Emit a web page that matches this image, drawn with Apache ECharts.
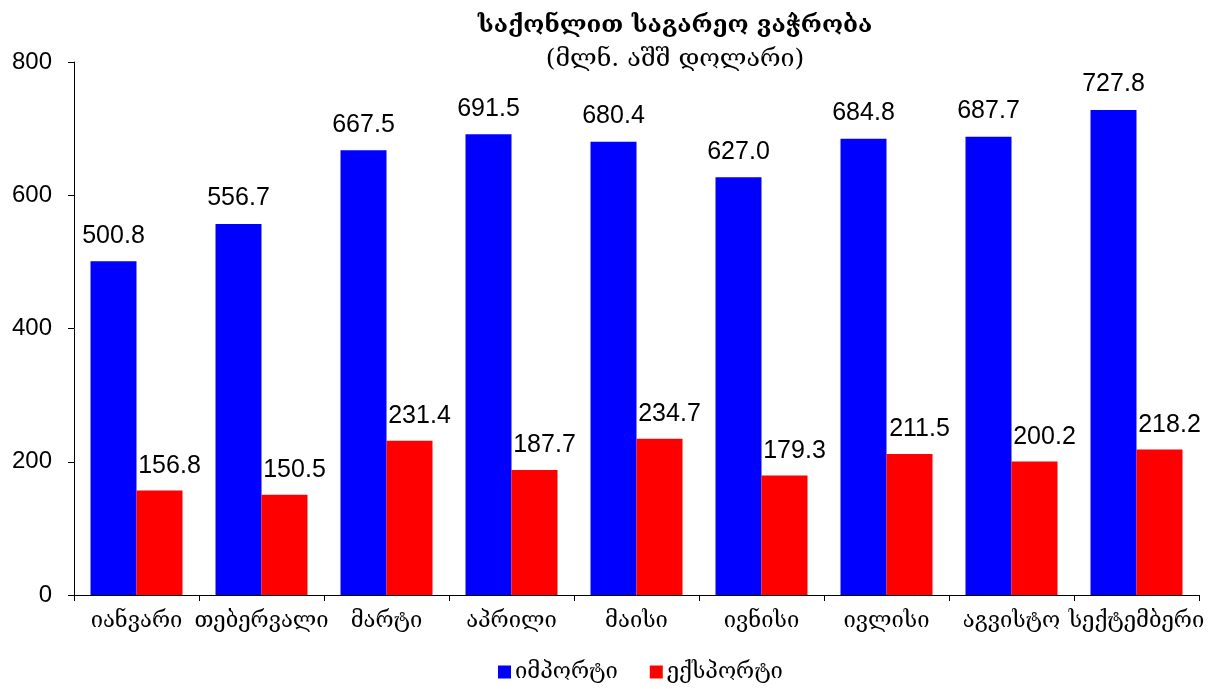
<!DOCTYPE html>
<html><head><meta charset="utf-8">
<script src="https://cdn.jsdelivr.net/npm/echarts@6/dist/echarts.min.js"></script>
<style>html,body{margin:0;padding:0;background:#fff}#c{width:1215px;height:689px}</style>
</head><body><div id="c"></div>
<script>
const categories = ['იანვარი','თებერვალი','მარტი','აპრილი','მაისი','ივნისი','ივლისი','აგვისტო','სექტემბერი'];
const importValues = [500.8, 556.7, 667.5, 691.5, 680.4, 627.0, 684.8, 687.7, 727.8];
const exportValues = [156.8, 150.5, 231.4, 187.7, 234.7, 179.3, 211.5, 200.2, 218.2];
const seriesNames = ['იმპორტი', 'ექსპორტი'];
const titleText = 'საქონლით საგარეო ვაჭრობა';
const subtitleText = '(მლნ. აშშ დოლარი)';

const geoFont = '"DejaVu Serif", "DejaVu Sans", serif';
const numFont = '"Liberation Sans", Arial, sans-serif';
const chart = echarts.init(document.getElementById('c'));
chart.setOption({
  animation: false,
  backgroundColor: '#fff',
  title: [
    {text: titleText, left: 670, top: 9, textAlign: 'center',
     textStyle: {fontFamily: geoFont, fontSize: 24, fontWeight: 'bold', color: '#000'}},
    {text: subtitleText, left: 670, top: 42, textAlign: 'center',
     textStyle: {fontFamily: geoFont, fontSize: 25, fontWeight: 'normal', color: '#000'}}
  ],
  legend: {
    bottom: 1, left: 493, itemWidth: 13, itemHeight: 13, itemGap: 32,
    icon: 'rect',
    textStyle: {fontFamily: geoFont, fontSize: 22, color: '#000', padding: [0, 0, 0, -1]},
    data: seriesNames
  },
  grid: {left: 74, right: 16, top: 62, bottom: 94, containLabel: false},
  xAxis: {
    type: 'category', data: categories,
    axisLine: {lineStyle: {color: '#000', width: 1}},
    axisTick: {show: true, alignWithLabel: false, length: 6, lineStyle: {color: '#000'}},
    axisLabel: {fontFamily: geoFont, fontSize: 22, color: '#000', margin: 15, interval: 0}
  },
  yAxis: {
    type: 'value', min: 0, max: 800, interval: 200,
    axisLine: {show: true, lineStyle: {color: '#000', width: 1}},
    axisTick: {show: true, length: 6, lineStyle: {color: '#000'}},
    splitLine: {show: false},
    axisLabel: {fontFamily: numFont, fontSize: 24, color: '#000', margin: 22}
  },
  series: [
    {name: seriesNames[0], type: 'bar', data: importValues, barGap: '0%', barCategoryGap: '26.4%',
     itemStyle: {color: '#0000ff'},
     label: {show: true, position: 'top', distance: 13, fontFamily: numFont, fontSize: 25, color: '#000',
             formatter: p => p.value.toFixed(1)}},
    {name: seriesNames[1], type: 'bar', data: exportValues, barGap: '0%', barCategoryGap: '26.4%',
     itemStyle: {color: '#ff0000'},
     label: {show: true, position: 'top', distance: 12, offset: [10, 0], fontFamily: numFont, fontSize: 25, color: '#000',
             formatter: p => p.value.toFixed(1)}}
  ]
});
</script></body></html>
